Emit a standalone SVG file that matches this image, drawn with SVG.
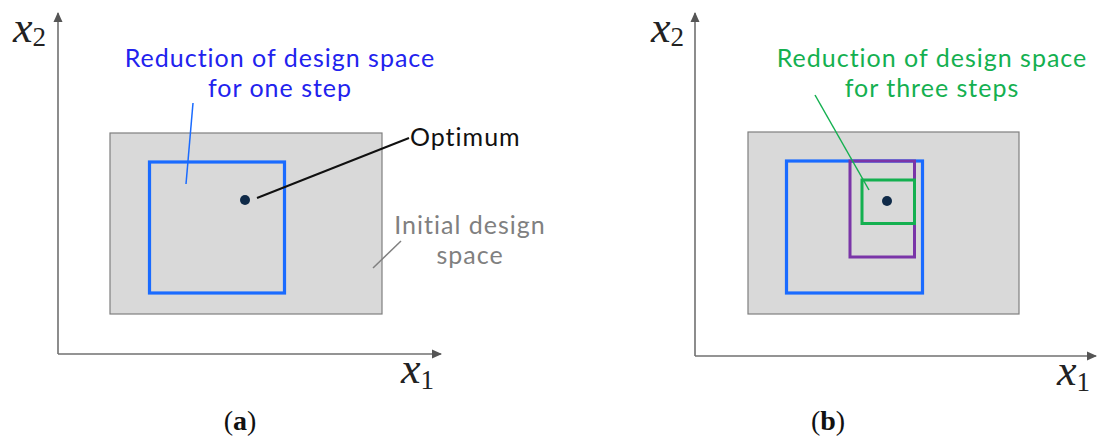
<svg xmlns="http://www.w3.org/2000/svg" width="1097" height="439" viewBox="0 0 1097 439">
<style>
.axis{stroke:#707070;stroke-width:1.6;fill:none}
.space{fill:#d9d9d9;stroke:#7f7f7f;stroke-width:1.2}
.blue{fill:none;stroke:#1a6bff;stroke-width:3.2}
.purple{fill:none;stroke:#7a35a8;stroke-width:3}
.green{fill:none;stroke:#14b050;stroke-width:3}
.dot{fill:#0f2a48}
.lbl{font-family:Lato,"Open Sans","Liberation Sans",sans-serif;font-size:25px;letter-spacing:1px;text-anchor:middle}
.var{font-family:"Liberation Serif",serif;font-style:italic;font-size:44px;fill:#222}
.sub{font-family:"Liberation Serif",serif;font-style:normal;font-size:27px}
.cap{font-family:"Liberation Serif",serif;font-size:28px;fill:#111;text-anchor:middle}
</style>
<defs>
<marker id="ah" markerWidth="10" markerHeight="10" refX="9" refY="5" orient="auto" markerUnits="userSpaceOnUse">
<path d="M0,0.5 L10,5 L0,9.5 Z" fill="#555"/>
</marker>
</defs>

<g id="panel-a">
<g id="axes-a">
<path class="axis" d="M58,354 L58,13" marker-end="url(#ah)"/>
<path class="axis" d="M58,354 L441,354" marker-end="url(#ah)"/>
<text class="var" x="13" y="42">x<tspan class="sub" dy="4">2</tspan></text>
<text class="var" x="401" y="383">x<tspan class="sub" dy="6">1</tspan></text>
</g>
<g id="initial-space-a">
<rect class="space" x="110" y="133" width="272" height="181"/>
</g>
<g id="step-one">
<rect class="blue" x="149.5" y="162" width="135" height="131"/>
</g>
<g id="optimum-a">
<circle class="dot" cx="245" cy="200" r="5"/>
</g>
<g id="label-reduction-a">
<text class="lbl" x="280" y="67" fill="#2222ee">Reduction of design space</text>
<text class="lbl" x="280" y="97" fill="#2222ee">for one step</text>
</g>
<g id="label-optimum">
<text x="410" y="146" font-family="Lato,'Open Sans','Liberation Sans',sans-serif" font-size="25" letter-spacing="1" fill="#111">Optimum</text>
</g>
<g id="label-initial">
<text class="lbl" x="470" y="234" fill="#808080">Initial design</text>
<text class="lbl" x="470" y="264" fill="#808080">space</text>
</g>
<text class="cap" x="240" y="430">(<tspan font-weight="bold">a</tspan>)</text>
</g>

<g id="panel-b">
<g id="axes-b">
<path class="axis" d="M695,356 L695,13" marker-end="url(#ah)"/>
<path class="axis" d="M695,356 L1096,356" marker-end="url(#ah)"/>
<text class="var" x="651" y="42">x<tspan class="sub" dy="4">2</tspan></text>
<text class="var" x="1057" y="385">x<tspan class="sub" dy="6">1</tspan></text>
</g>
<g id="initial-space-b">
<rect class="space" x="748" y="132" width="271" height="182"/>
</g>
<g id="step-1-b">
<rect class="blue" x="786.5" y="161" width="136" height="132"/>
</g>
<g id="step-2-b">
<rect class="purple" x="850" y="161" width="64.5" height="96"/>
</g>
<g id="step-3-b">
<rect class="green" x="862" y="180" width="52.5" height="43.5"/>
</g>
<g id="optimum-b">
<circle class="dot" cx="887" cy="201" r="5"/>
</g>
<g id="label-reduction-b">
<text class="lbl" x="932" y="67" fill="#14b050">Reduction of design space</text>
<text class="lbl" x="932" y="97" fill="#14b050">for three steps</text>
</g>
<text class="cap" x="828" y="430">(<tspan font-weight="bold">b</tspan>)</text>
</g>

<g id="connectors">
<line x1="193" y1="103" x2="186" y2="184" stroke="#1a6bff" stroke-width="1.5"/>
<line x1="257" y1="198" x2="409" y2="138" stroke="#111" stroke-width="2"/>
<line x1="401" y1="241" x2="373" y2="268" stroke="#808080" stroke-width="1.5"/>
<line x1="815" y1="95" x2="869" y2="190" stroke="#14b050" stroke-width="1.5"/>
</g>
</svg>
